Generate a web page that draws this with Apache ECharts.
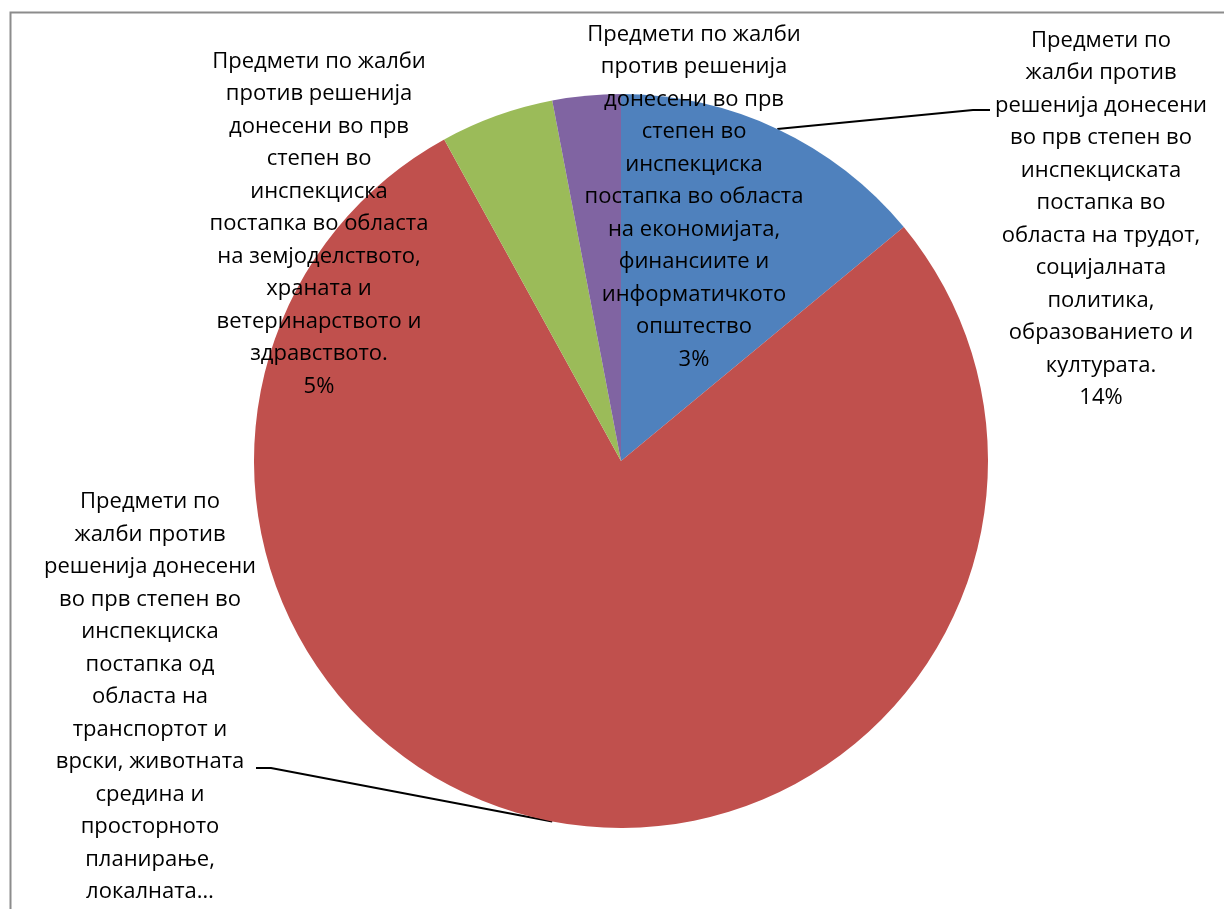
<!DOCTYPE html>
<html><head><meta charset="utf-8">
<script src="https://cdn.jsdelivr.net/npm/echarts@6/dist/echarts.min.js"></script>
<style>html,body{margin:0;padding:0;background:#fff}#c{width:1224px;height:909px}</style>
</head><body><div id="c"></div>
<script>
// categories (wrapped as in the source chart)
var categories = [
  'Предмети по\nжалби против\nрешенија донесени\nво прв степен во\nинспекциската\nпостапка во\nобласта на трудот,\nсоцијалната\nполитика,\nобразованието и\nкултурата.',
  'Предмети по\nжалби против\nрешенија донесени\nво прв степен во\nинспекциска\nпостапка од\nобласта на\nтранспортот и\nврски, животната\nсредина и\nпросторното\nпланирање,\nлокалната…',
  'Предмети по жалби\nпротив решенија\nдонесени во прв\nстепен во\nинспекциска\nпостапка во областа\nна земјоделството,\nхраната и\nветеринарството и\nздравството.',
  'Предмети по жалби\nпротив решенија\nдонесени во прв\nстепен во\nинспекциска\nпостапка во областа\nна економијата,\nфинансиите и\nинформатичкото\nопштество'
];
var values = [14, 78, 5, 3];
var showPercent = [true, false, true, true];
var showLeader = [true, true, false, false];
var colors = ['#4F81BD', '#C0504D', '#9BBB59', '#8064A2'];

var chart = echarts.init(document.getElementById('c'));
var labelPos = [
  {x: 1101, y: 219},
  {x: 150, y: 697},
  {x: 319, y: 224},
  {x: 694, y: 197}
];
var data = categories.map(function (n, i) {
  return {
    name: n, value: values[i],
    itemStyle: {color: colors[i]},
    label: {formatter: showPercent[i] ? '{b}\n{d}%' : '{b}'},
    labelLine: {show: showLeader[i]}
  };
});
chart.setOption({
  animation: false,
  backgroundColor: '#fff',
  graphic: [{
    type: 'rect', left: 8, top: 10,
    shape: {width: 1400, height: 1000},
    style: {fill: 'none', stroke: '#8c8c8c', lineWidth: 2},
    silent: true, z: -10
  }],
  series: [{
    type: 'pie',
    center: [621, 461],
    radius: 367,
    startAngle: 90,
    clockwise: true,
    avoidLabelOverlap: false,
    data: data,
    itemStyle: {borderWidth: 0},
    label: {
      show: true, position: 'outside',
      fontFamily: 'Open Sans', fontSize: 22, lineHeight: 32.5,
      color: '#000', align: 'center'
    },
    labelLine: {show: true, length: 20, length2: 10, lineStyle: {color: '#000', width: 2}},
    labelLayout: function (p) {
      var i = p.dataIndex;
      var res = {x: labelPos[i].x, y: labelPos[i].y, align: 'center', verticalAlign: 'middle'};
      if (p.labelLinePoints) {
        var s = p.labelLinePoints[0];
        if (i === 0) res.labelLinePoints = [s, [973, 110], [990, 110]];
        if (i === 1) res.labelLinePoints = [s, [271, 768], [256, 768]];
      }
      return res;
    }
  }]
});
</script></body></html>
